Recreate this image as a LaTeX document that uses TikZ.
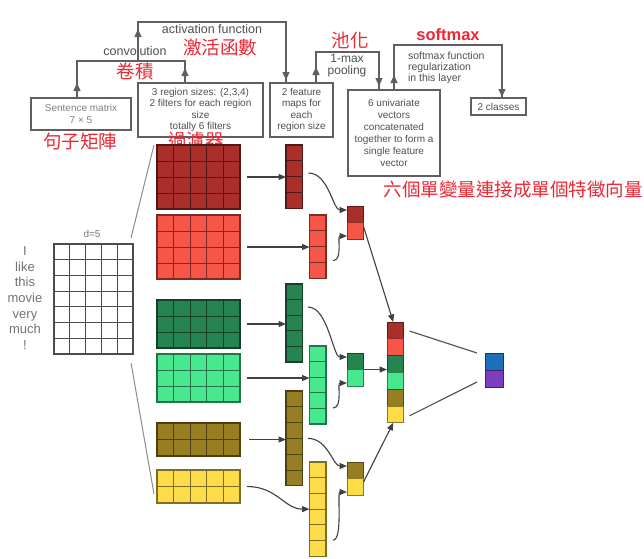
\documentclass[tikz,border=0pt]{standalone}
\usepackage{fontspec}
\setmainfont{Liberation Sans}
\newfontfamily\cjk{Noto Sans CJK TC}
\usetikzlibrary{arrows.meta,calc}
\definecolor{cDR}{RGB}{170,46,42}
\definecolor{cR}{RGB}{246,86,72}
\definecolor{cDG}{RGB}{38,132,80}
\definecolor{cLG}{RGB}{72,232,142}
\definecolor{cOL}{RGB}{152,126,34}
\definecolor{cY}{RGB}{252,220,72}
\definecolor{cBL}{RGB}{30,110,190}
\definecolor{cPU}{RGB}{122,62,190}
\definecolor{txtgray}{RGB}{80,80,80}
\definecolor{linegray}{RGB}{95,95,95}
\definecolor{redlbl}{RGB}{236,40,52}
\newcommand\cellmat[9]{%
  \foreach \ci in {1,...,#4}{\foreach \ri in {1,...,#5}{%
    \draw[draw=#9, fill=#8, line width=1pt] ({#2+(\ci-1)*#6},{#3+(\ri-1)*#7}) rectangle ({#2+\ci*#6},{#3+\ri*#7});}}%
  \node[draw=#9, line width=1.2pt, inner sep=0pt, outer sep=0pt, minimum width={#4*#6*1pt}, minimum height={#5*#7*1pt}, anchor=north west] (#1) at (#2,#3) {};%
}
\newcommand\colvec[7]{%
  \foreach \cc [count=\ii] in {#7}{%
    \draw[draw=\cc!55!black, fill=\cc, line width=1pt] (#2,{#3+(\ii-1)*#5}) rectangle ({#2+#4},{#3+\ii*#5});}%
  \node[inner sep=0pt, outer sep=0pt, minimum width={#4*1pt}, minimum height={#6*#5*1pt}, anchor=north west] (#1) at (#2,#3) {};%
}
\tikzset{
  box/.style={draw=linegray, line width=1.3pt, inner sep=0pt, outer sep=0pt, text=txtgray, align=center, font=\fontsize{10}{11.5}\selectfont},
  lbl/.style={text=txtgray, font=\fontsize{12.5}{13}\selectfont, inner sep=0pt},
  cjklbl/.style={text=redlbl, font=\cjk\fontsize{18.5}{20}\selectfont, inner sep=0pt},
  bracket/.style={color=linegray, line width=1.3pt},
  uptip/.style={-{Triangle[length=8pt,width=7pt]}},
  arr/.style={-{Triangle[length=7.5pt,width=6pt]}, draw=black!75, line width=1.1pt},
  thinline/.style={draw=black!45, line width=1pt},
  word/.style={text=black!55, font=\fontsize{13}{13}\selectfont, inner sep=0pt, text height=9.5pt, text depth=2.5pt},
}
\begin{document}
\begin{tikzpicture}[x=1pt,y=-1pt]
\fill[white] (0,0) rectangle (644,558);
\useasboundingbox (0,0) rectangle (644,558);

% top boxes
\node[box, minimum width=100pt, minimum height=32pt, text=black!50] (sm) at (81,114) {Sentence matrix\\7 × 5};
\node[box, minimum width=125pt, minimum height=54pt] (rg) at (200.5,110) {3 region sizes: (2,3,4)\\2 filters for each region\\size\\totally 6 filters};
\node[box, minimum width=63pt, minimum height=54pt] (fm) at (301.5,110) {2 feature\\maps for\\each\\region size};
\node[box, minimum width=92pt, minimum height=86pt, font=\fontsize{10}{12}\selectfont] (cc) at (394,133) {6 univariate\\vectors\\concatenated\\together to form a\\single feature\\vector};
\node[box, minimum width=55pt, minimum height=17pt] (cl) at (498.5,106.5) {2 classes};

% bracket labels
\node[lbl] (lconv) at (135,51) {convolution};
\node[lbl] (lact) at (212,29) {activation function};
\node[lbl, align=center, font=\fontsize{12}{12}\selectfont] (lpool) at (347,66) {1-max\\pooling};
\node[box, draw=none, align=left, anchor=north west, font=\fontsize{10.5}{11}\selectfont] (lsoft) at (408,52) {softmax function\\regularization\\in this layer};

% red labels
\node[cjklbl] (zsent) at (80,141) {句子矩陣};
\node[cjklbl] (zconv) at (135,71) {卷積};
\node[cjklbl] (zact) at (220,47) {激活函數};
\node[cjklbl] (zfilt) at (196,140) {過濾器};
\node[cjklbl] (zpool) at (350,40) {池化};
\node[text=redlbl, font=\bfseries\fontsize{16.5}{18}\selectfont, inner sep=0pt] (zsoft) at (448,35) {softmax};
\node[cjklbl] (zvec) at (513,189) {六個單變量連接成單個特徵向量};

% brackets
\coordinate (cj) at (138,61);
\draw[bracket] ([xshift=-4pt]sm.north) -- ++(0,-37) -| ([xshift=-15.5pt]rg.north);
\draw[bracket, uptip] ([xshift=-4pt]sm.north) -- ++(0,-15);
\draw[bracket, uptip] ([xshift=-15.5pt]rg.north) -- ++(0,-15);
\draw[bracket] (cj) -- ++(0,-39) -| ([xshift=-15.5pt]fm.north);
\draw[bracket, uptip] (cj) -- ++(0,-32);
\draw[bracket, uptip] ([xshift=-15.5pt]fm.north) ++(0,-14) -- ++(0,11);
\draw[bracket] ([xshift=14.5pt]fm.north) -- ++(0,-31) -| ([xshift=-15pt]cc.north);
\draw[bracket, uptip] ([xshift=14.5pt]fm.north) -- ++(0,-16);
\draw[bracket, uptip] ([xshift=-15pt]cc.north) ++(0,-14) -- ++(0,10);
\draw[bracket] (cc.north) -- ++(0,-45) -| ([xshift=3.5pt]cl.north);
\draw[bracket, uptip] (cc.north) -- ++(0,-15);
\draw[bracket, uptip] ([xshift=3.5pt]cl.north) ++(0,-14) -- ++(0,13);

% sentence matrix
\node[text=black!55, font=\fontsize{10}{10}\selectfont, inner sep=0pt] (dlbl) at (92,234) {d=5};
\cellmat{S}{54}{244}{5}{7}{15.8}{15.7}{white}{black!70}
\foreach \w [count=\k] in {I,like,this,movie,very,much,!}{
  \node[word] (w\k) at (25,{244+15.7*(\k-0.5)}) {\w};
}

% filters
\cellmat{F1}{157}{145}{5}{4}{16.6}{16}{cDR}{cDR!50!black}
\cellmat{F2}{157}{215}{5}{4}{16.6}{16}{cR}{cR!50!black}
\cellmat{F3}{157}{300}{5}{3}{16.6}{16}{cDG}{cDG!50!black}
\cellmat{F4}{157}{354}{5}{3}{16.6}{16}{cLG}{cLG!50!black}
\cellmat{F5}{157}{423}{5}{2}{16.6}{16.5}{cOL}{cOL!50!black}
\cellmat{F6}{157}{470}{5}{2}{16.6}{16.5}{cY}{cY!50!black}

\draw[thinline] ($(S.north east)+(-2,-6)$) -- ($(F1.north west)+(-3,0)$);
\draw[thinline] ($(S.south east)+(-2,9)$) -- ($(F6.south west)+(-3,-9)$);

% feature maps
\cellmat{M1}{286}{145}{1}{4}{16.5}{15.8}{cDR}{cDR!50!black}
\cellmat{M2}{309.5}{215}{1}{4}{16.5}{15.8}{cR}{cR!50!black}
\cellmat{M3}{286}{284}{1}{5}{16.5}{15.6}{cDG}{cDG!50!black}
\cellmat{M4}{309.5}{346}{1}{5}{16.5}{15.6}{cLG}{cLG!50!black}
\cellmat{M5}{286}{391}{1}{6}{16.5}{15.8}{cOL}{cOL!50!black}
\cellmat{M6}{309.5}{462}{1}{6}{16.5}{15.7}{cY}{cY!50!black}

\draw[arr] ([xshift=7pt]F1.east) -- (F1.east -| M1.west);
\draw[arr] ([xshift=7pt]F2.east) -- (F2.east -| M2.west);
\draw[arr] ([xshift=7pt]F3.east) -- (F3.east -| M3.west);
\draw[arr] ([xshift=7pt]F4.east) -- (F4.east -| M4.west);
\draw[arr] ([xshift=9pt]F5.east) -- (F5.east -| M5.west);
\draw[arr] ([xshift=7pt]F6.east) .. controls +(30,0) and +(-25,0) .. (M6.west);

% pooled
\colvec{P1}{347}{206}{16.5}{16.5}{2}{cDR,cR}
\colvec{P2}{347}{353}{16.5}{16.5}{2}{cDG,cLG}
\colvec{P3}{347}{462}{16.5}{16.5}{2}{cOL,cY}

\draw[arr] ([xshift=6pt,yshift=3.6pt]M1.east) .. controls +(20,0) and +(-14,0) .. ([yshift=-4pt]P1.north west);
\draw[arr] ([xshift=7pt,yshift=-14pt]M2.east) .. controls +(10,0) and +(-10,0) .. ([yshift=3pt]P1.south west);
\draw[arr] ([xshift=5.5pt,yshift=16pt]M3.east) .. controls +(20,0) and +(-14,0) .. ([yshift=-4pt]P2.north west);
\draw[arr] ([xshift=7pt,yshift=-23pt]M4.east) .. controls +(10,0) and +(-10,0) .. ([yshift=3pt]P2.south west);
\draw[arr] ([xshift=5.5pt]M5.east) .. controls +(20,0) and +(-14,0) .. ([yshift=-4pt]P3.north west);
\draw[arr] ([xshift=7pt,yshift=-31pt]M6.east) .. controls +(10,0) and +(-10,0) .. ([yshift=3pt]P3.south west);

% concatenated vector
\colvec{C}{387}{322}{16.5}{16.8}{6}{cDR,cR,cDG,cLG,cOL,cY}
\draw[arr] ([yshift=-4pt]P1.east) -- ([xshift=-2pt]C.north);
\draw[arr] (P2.east) -- (P2.east -| C.west);
\draw[arr] ([yshift=-3.5pt]P3.east) -- ([xshift=-2pt]C.south);

% output
\colvec{O}{485}{353}{18}{17}{2}{cBL,cPU}
\draw[draw=black!65, line width=1.2pt] ($(C.north east)+(6,9)$) -- ($(O.north west)+(-8,0)$);
\draw[draw=black!65, line width=1.2pt] ($(C.south east)+(6,-7)$) -- ($(O.south west)+(-8,-5)$);
\end{tikzpicture}
\end{document}
